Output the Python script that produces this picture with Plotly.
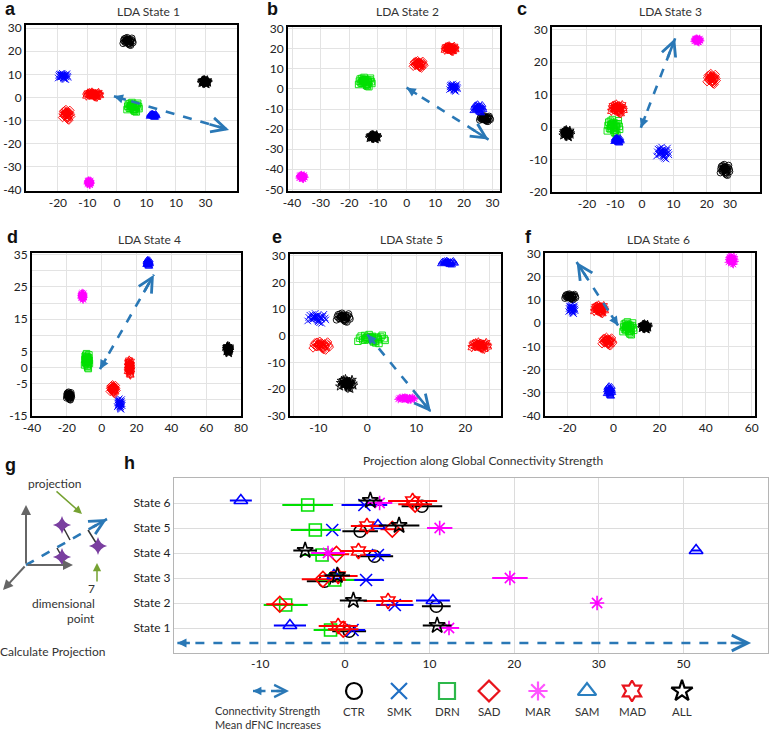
import math
import plotly.graph_objects as go

W, H = 770, 733

# ---------------------------------------------------------------- data
GROUPS = ["CTR", "SMK", "DRN", "SAD", "MAR", "SAM", "MAD", "ALL"]
TITLES = ["LDA State 1", "LDA State 2", "LDA State 3",
          "LDA State 4", "LDA State 5", "LDA State 6"]
LETTERS = ["a", "b", "c", "d", "e", "f"]

# cluster centres / spreads per LDA state (order = GROUPS)
S1_CX = [3.8, -18.2, 5.5, -17.0, -9.4, 12.3, -8.0, 29.8]
S1_CY = [24.2, 9.1, -4.2, -7.5, -36.8, -7.8, 1.2, 6.7]
S1_SX = [1.8, 1.8, 2.2, 1.5, 0.6, 1.2, 2.5, 1.2]
S1_SY = [1.8, 1.5, 2.2, 2.5, 1.2, 1.0, 1.2, 1.0]

S2_CX = [27.4, 16.4, -14.4, 4.2, -36.5, 25.1, 15.2, -11.5]
S2_CY = [-14.8, 0.6, 3.4, 12.2, -43.8, -9.8, 20.0, -23.9]
S2_SX = [2.0, 1.5, 2.5, 2.0, 1.0, 1.8, 2.0, 1.5]
S2_SY = [1.5, 2.0, 2.5, 2.0, 1.2, 2.5, 1.5, 1.2]

S3_CX = [25.0, 6.3, -8.5, 21.0, 16.7, -7.3, -7.3, -22.5]
S3_CY = [-13.2, -8.0, 0.0, 14.8, 26.7, -4.1, 5.6, -2.0]
S3_SX = [1.5, 2.0, 2.0, 1.5, 1.0, 1.0, 2.0, 1.2]
S3_SY = [1.8, 2.0, 2.5, 1.8, 0.7, 1.0, 1.6, 1.2]

S4_CX = [-18.7, 10.4, -8.4, 6.6, -11.0, 26.7, 16.0, 72.6]
S4_CY = [-8.8, -11.3, 2.0, -6.7, 22.1, 32.4, 0.0, 5.6]
S4_SX = [1.5, 1.5, 1.5, 1.8, 0.8, 1.0, 1.0, 1.0]
S4_SY = [1.3, 1.8, 2.5, 1.5, 1.2, 1.2, 2.5, 1.2]

S5_CX = [-4.9, -10.3, 0.9, -9.4, 8.0, 16.5, 23.0, -4.2]
S5_CY = [6.8, 6.5, -1.2, -3.7, -23.5, 27.3, -3.7, -18.0]
S5_SX = [1.5, 2.0, 3.0, 1.8, 1.8, 1.5, 1.8, 1.5]
S5_SY = [1.8, 2.0, 1.8, 1.8, 0.6, 1.0, 1.5, 2.0]

S6_CX = [-18.7, -18.0, 6.5, -2.6, 51.3, -1.7, -6.0, 13.7]
S6_CY = [11.4, 6.0, -2.2, -7.9, 27.2, -29.3, 6.0, -1.5]
S6_SX = [2.5, 1.5, 2.5, 2.5, 1.5, 1.2, 2.5, 1.5]
S6_SY = [1.3, 2.0, 3.0, 2.0, 2.0, 2.5, 2.0, 1.2]

STATE_CX = [S1_CX, S2_CX, S3_CX, S4_CX, S5_CX, S6_CX]
STATE_CY = [S1_CY, S2_CY, S3_CY, S4_CY, S5_CY, S6_CY]
STATE_SX = [S1_SX, S2_SX, S3_SX, S4_SX, S5_SX, S6_SX]
STATE_SY = [S1_SY, S2_SY, S3_SY, S4_SY, S5_SY, S6_SY]

# hand-drawn scatter pattern of subjects inside one cluster (unit spread)
CLOUD_DX = [0.00, 0.62, -0.48, 0.91, -0.83, 0.27, -0.18, 0.71,
            -0.94, 0.12, 0.49, -0.61, -0.33, 0.84, 0.05, -0.72]
CLOUD_DY = [0.00, 0.41, 0.73, -0.28, 0.19, -0.81, 0.92, 0.77,
            -0.47, -0.63, -0.92, -0.17, 0.35, 0.08, 0.55, 0.60]

# connectivity-strength arrow per LDA state (base -> tip)
ARROW_X0 = [-1.0, 0.0, -0.3, -1.0, 0.0, 2.0]
ARROW_Y0 = [0.5, 0.6, -0.2, -0.5, 0.5, -1.0]
ARROW_X1 = [38.0, 28.6, 10.0, 30.0, 13.0, -16.0]
ARROW_Y1 = [-14.0, -25.2, 27.3, 28.8, -28.5, 26.4]

# panel h : projection (mean, half-width) for State 1..6
STATE_LABELS = ["State 1", "State 2", "State 3", "State 4", "State 5", "State 6"]
H_MEAN = {
    "CTR": [0.5, 10.8, -2.4, 3.5, 1.8, 9.1],
    "SMK": [0.9, 5.9, 2.5, 3.9, -1.5, 2.3],
    "DRN": [-1.7, -7.0, -1.2, -2.7, -3.5, -4.4],
    "SAD": [-0.2, -7.7, -2.6, -1.0, 5.6, 8.3],
    "MAR": [12.3, 29.8, 19.5, -2.0, 11.2, 4.1],
    "SAM": [-6.5, 10.4, -1.3, 41.5, 3.9, -12.3],
    "MAD": [-0.8, 5.1, -0.8, 1.6, 2.6, 8.0],
    "ALL": [10.9, 1.0, -0.9, -4.7, 6.4, 3.0],
}
H_ERR = {
    "CTR": [2.0, 1.7, 2.1, 2.2, 2.1, 2.4],
    "SMK": [1.5, 2.2, 2.1, 1.5, 1.0, 2.7],
    "DRN": [2.0, 2.6, 2.3, 2.4, 2.9, 3.0],
    "SAD": [1.8, 1.6, 2.5, 1.5, 1.4, 2.0],
    "MAR": [1.2, 0.0, 2.1, 2.0, 1.5, 1.5],
    "SAM": [1.9, 2.0, 1.0, 0.6, 1.0, 1.3],
    "MAD": [2.3, 2.9, 2.3, 2.2, 1.9, 2.9],
    "ALL": [1.7, 1.6, 1.5, 1.4, 2.4, 1.4],
}
H_TICKVALS = [-10, 0, 10, 20, 30, 40]
H_TICKTEXT = ["-10", "0", "10", "20", "30", "50"]
H_ARROW = [-19.8, 48.0]
H_TITLE = "Projection along Global Connectivity Strength"

# ---------------------------------------------------------------- style
FONT = "Lato, 'Open Sans', sans-serif"
GRID = "#e3e3e3"
ARROW_C = "#2a78b6"
SYMBOL = {"CTR": "circle-open", "SMK": "x-thin-open", "DRN": "square-open",
          "SAD": "diamond-open", "MAR": "asterisk-open", "SAM": "triangle-up-open",
          "MAD": "hexagram-open", "ALL": "star-open"}
COLOR = {"CTR": "#000000", "SMK": "#0000ff", "DRN": "#00e000", "SAD": "#ff0000",
         "MAR": "#ff00ff", "SAM": "#0000ff", "MAD": "#ff0000", "ALL": "#000000"}
LEG_COLOR = {"CTR": "#000000", "SMK": "#1f6fc4", "DRN": "#2db84a", "SAD": "#e8141c",
             "MAR": "#ff55ff", "SAM": "#2a7fc0", "MAD": "#e8141c", "ALL": "#000000"}
DODGE = {"CTR": -0.13, "SMK": -0.08, "DRN": -0.08, "SAD": -0.05,
         "MAR": 0.0, "SAM": 0.1, "MAD": 0.08, "ALL": 0.1}


def rng(a, b, s):
    return list(range(a, b + 1, s))


def lab(vals, shown=None):
    return [str(v) if (shown is None or v in shown) else "" for v in vals]


# pixel boxes (left, top, right, bottom) and axis settings per panel
PANELS = [
    dict(box=(26, 25, 237, 191), xr=[-30.8, 40.7], yr=[-40.4, 31.3],
         xt=[-20, -10, 0, 10, 20, 30], xtt=["-20", "-10", "0", "10", "10", "30"],
         yt=rng(-40, 30, 10), ytt=lab(rng(-40, 30, 10)),
         tpos=(148, 12), lpos=(3, 9)),
    dict(box=(288, 27, 500, 191), xr=[-41.4, 32.6], yr=[-50.8, 30.8],
         xt=rng(-40, 30, 10), xtt=lab(rng(-40, 30, 10)),
         yt=rng(-50, 30, 10), ytt=lab(rng(-50, 30, 10)),
         tpos=(408, 12), lpos=(265, 9)),
    dict(box=(552, 27, 760, 192), xr=[-27.0, 35.5], yr=[-20.0, 30.8],
         xt=[-16.5, -8, 0, 9.5, 19.5, 26.5], xtt=["-20", "-10", "0", "10", "20", "30"],
         yt=rng(-20, 30, 5), ytt=lab(rng(-20, 30, 5), rng(-20, 30, 10)),
         tpos=(670, 12), lpos=(515, 9)),
    dict(box=(32, 253, 241, 416), xr=[-40, 80], yr=[-15, 35.5],
         xt=rng(-40, 80, 20), xtt=lab(rng(-40, 80, 20)),
         yt=rng(-15, 35, 5), ytt=lab(rng(-15, 35, 5), [35, 25, 15, 5, 0, -5, -15]),
         tpos=(149, 239), lpos=(5, 237)),
    dict(box=(290, 254, 501, 416), xr=[-15.8, 27.3], yr=[-30, 30.6],
         xt=rng(-15, 25, 5), xtt=lab(rng(-15, 25, 5), [-10, 0, 10, 20]),
         yt=rng(-30, 30, 10), ytt=lab(rng(-30, 30, 10)),
         tpos=(412, 239), lpos=(270, 237)),
    dict(box=(545, 253, 755, 416), xr=[-29.7, 61.4], yr=[-40, 30.3],
         xt=rng(-20, 60, 10), xtt=lab(rng(-20, 60, 10), [-20, 0, 20, 40, 60]),
         yt=rng(-40, 30, 10), ytt=lab(rng(-40, 30, 10)),
         tpos=(658, 239), lpos=(523, 237)),
]
H_BOX = (174, 478, 768, 653)
H_XR = [-20.2, 50]
H_YR = [0, 7]
LEGEND_X = [354, 399, 447, 489, 538, 587, 632, 682]
LEGEND_Y = 691


def dxp(l, r):
    return [l / W, r / W]


def dyp(t, b):
    return [1 - b / H, 1 - t / H]


fig = go.Figure()
layout = dict(width=W, height=H,
              margin=dict(l=0, r=0, t=0, b=0, pad=0, autoexpand=False),
              paper_bgcolor="white", plot_bgcolor="rgba(0,0,0,0)", showlegend=False,
              font=dict(family=FONT, size=12, color="#222222"))
annotations = []


def axnames(n):
    return ("x" if n == 1 else f"x{n}", "y" if n == 1 else f"y{n}")


def text_ann(x, y, txt, size=12, color="#333", anchor="center", bold=False, family=None):
    f = dict(size=size, color=color)
    if family:
        f["family"] = family
    return dict(x=x / W, y=1 - y / H, xref="paper", yref="paper",
                text=f"<b>{txt}</b>" if bold else txt, showarrow=False,
                xanchor=anchor, yanchor="middle", align=anchor, font=f)


def add_arrow(xa, ya, x0, y0, x1, y1, kx, ky, yrev=False, width=2.6, tipsize=1.1,
              basesize=0.7, stub=22):
    """dashed line + open chevron at the tip + small solid head at the base.
    kx, ky = pixels per data unit (used only to orient the heads)."""
    fig.add_trace(go.Scatter(x=[x0, x1], y=[y0, y1], mode="lines", xaxis=xa, yaxis=ya,
                             line=dict(color=ARROW_C, width=width, dash="dash"),
                             hoverinfo="skip"))
    pdx = (x1 - x0) * kx
    pdy = (y1 - y0) * ky * (1 if yrev else -1)
    L = math.hypot(pdx, pdy)
    ux, uy = pdx / L, pdy / L
    annotations.append(dict(x=x1, y=y1, ax=-ux * stub, ay=-uy * stub,
                            xref=xa, yref=ya, axref="pixel", ayref="pixel", text="",
                            showarrow=True, arrowhead=5, arrowsize=tipsize,
                            arrowwidth=width, arrowcolor=ARROW_C))
    if basesize:
        annotations.append(dict(x=x0, y=y0, ax=ux * 14, ay=uy * 14,
                                xref=xa, yref=ya, axref="pixel", ayref="pixel", text="",
                                showarrow=True, arrowhead=2, arrowsize=basesize,
                                arrowwidth=width, arrowcolor=ARROW_C))


AX_COMMON = dict(automargin=False, zeroline=False, showline=True, mirror=True,
                 ticks="", tickfont=dict(size=12, color="#222"), tickmode="array")

# ---------------------------------------------------------------- LDA panels
for i, p in enumerate(PANELS):
    n = i + 1
    xa, ya = axnames(n)
    l, t, r, b = p["box"]
    layout["xaxis" if n == 1 else f"xaxis{n}"] = dict(
        AX_COMMON, domain=dxp(l, r), range=p["xr"], anchor=ya,
        tickvals=p["xt"], ticktext=p["xtt"], showgrid=True, gridcolor=GRID,
        linecolor="black", linewidth=2)
    layout["yaxis" if n == 1 else f"yaxis{n}"] = dict(
        AX_COMMON, domain=dyp(t, b), range=p["yr"], anchor=xa,
        tickvals=p["yt"], ticktext=p["ytt"], showgrid=True, gridcolor=GRID,
        linecolor="black", linewidth=2)
    for g_i, g in enumerate(GROUPS):
        cx, cy = STATE_CX[i][g_i], STATE_CY[i][g_i]
        sx, sy = STATE_SX[i][g_i], STATE_SY[i][g_i]
        xs = [cx + sx * d for d in CLOUD_DX] + [cx + 0.5 * sx * d for d in CLOUD_DX]
        ys = [cy + sy * d for d in CLOUD_DY] + [cy + 0.5 * sy * d for d in CLOUD_DY]
        fig.add_trace(go.Scatter(x=xs, y=ys, mode="markers", xaxis=xa, yaxis=ya,
                                 marker=dict(symbol=SYMBOL[g], size=6.5, color=COLOR[g],
                                             line=dict(width=0.9, color=COLOR[g])),
                                 hoverinfo="skip"))
    kx = (r - l) / (p["xr"][1] - p["xr"][0])
    ky = (b - t) / (p["yr"][1] - p["yr"][0])
    add_arrow(xa, ya, ARROW_X0[i], ARROW_Y0[i], ARROW_X1[i], ARROW_Y1[i], kx, ky)
    annotations.append(text_ann(p["tpos"][0], p["tpos"][1], TITLES[i]))
    annotations.append(text_ann(p["lpos"][0], p["lpos"][1], LETTERS[i], size=18,
                                color="#111", anchor="left", bold=True,
                                family="Liberation Sans, Arial"))

# ---------------------------------------------------------------- panel h
l, t, r, b = H_BOX
layout["xaxis7"] = dict(AX_COMMON, domain=dxp(l, r), range=H_XR, anchor="y7",
                        tickvals=H_TICKVALS, ticktext=H_TICKTEXT,
                        showgrid=True, gridcolor="#dcdcdc",
                        linecolor="#b5b5b5", linewidth=1)
layout["yaxis7"] = dict(AX_COMMON, domain=dyp(t, b), range=H_YR, anchor="x7",
                        tickvals=[1, 2, 3, 4, 5, 6],
                        ticktext=STATE_LABELS, showgrid=True, gridcolor="#dcdcdc",
                        linecolor="#b5b5b5", linewidth=1)
states = [1, 2, 3, 4, 5, 6]
for g in GROUPS:
    fig.add_trace(go.Scatter(
        x=H_MEAN[g], y=[s + DODGE[g] for s in states], mode="markers",
        xaxis="x7", yaxis="y7",
        error_x=dict(type="data", array=H_ERR[g], color=COLOR[g], thickness=2, width=0),
        marker=dict(symbol=SYMBOL[g], size=12, color=COLOR[g],
                    line=dict(width=1.6, color=COLOR[g])),
        hoverinfo="skip"))
hkx = (r - l) / (H_XR[1] - H_XR[0])
hky = (b - t) / (H_YR[1] - H_YR[0])
add_arrow("x7", "y7", H_ARROW[0], 0.4, H_ARROW[1], 0.4, hkx, hky, width=2.6, tipsize=1.2)
annotations.append(text_ann(483, 460, H_TITLE))
annotations.append(text_ann(122, 463, "h", size=18, color="#111", anchor="left",
                            bold=True, family="Liberation Sans, Arial"))

# ---------------------------------------------------------------- overlay (pixel coords): legend + panel g
layout["xaxis8"] = dict(domain=[0, 1], range=[0, W], anchor="y8", visible=False,
                        automargin=False)
layout["yaxis8"] = dict(domain=[0, 1], range=[H, 0], anchor="x8", visible=False,
                        automargin=False)

for g, lx in zip(GROUPS, LEGEND_X):
    fig.add_trace(go.Scatter(x=[lx], y=[LEGEND_Y], mode="markers", xaxis="x8", yaxis="y8",
                             marker=dict(symbol=SYMBOL[g], size=16, color=LEG_COLOR[g],
                                         line=dict(width=2.2, color=LEG_COLOR[g])),
                             hoverinfo="skip"))
    annotations.append(text_ann(lx, 711, g, size=11.5))
add_arrow("x8", "y8", 253, LEGEND_Y, 289, LEGEND_Y, 1, 1, yrev=True, width=2.4,
          tipsize=1.0, basesize=0.7, stub=14)
annotations.append(text_ann(213, 717, "Connectivity Strength<br>Mean dFNC Increases",
                            size=11, anchor="left"))

# panel g schematic
annotations.append(text_ann(3, 465, "g", size=18, color="#111", anchor="left", bold=True,
                            family="Liberation Sans, Arial"))
G_ORIGIN = (26, 565)
for ex, ey in [(26, 505), (73, 565), (3, 590)]:
    annotations.append(dict(x=ex, y=ey, ax=G_ORIGIN[0], ay=G_ORIGIN[1], xref="x8", yref="y8",
                            axref="x8", ayref="y8", text="", showarrow=True, arrowhead=2,
                            arrowsize=1.0, arrowwidth=2, arrowcolor="#666666"))
add_arrow("x8", "y8", G_ORIGIN[0], G_ORIGIN[1], 107, 519, 1, 1, yrev=True, width=2.6,
          tipsize=1.1, basesize=None, stub=18)
for (sx_, sy_), (qx, qy) in [((62, 525), (70, 540)), ((98, 546), (88, 530)),
                             ((62, 557), (57, 548))]:
    fig.add_trace(go.Scatter(x=[sx_, qx], y=[sy_, qy], mode="lines", xaxis="x8", yaxis="y8",
                             line=dict(color="#333333", width=1.5), hoverinfo="skip"))
fig.add_trace(go.Scatter(x=[62, 98, 62], y=[525, 546, 557], mode="markers",
                         xaxis="x8", yaxis="y8",
                         marker=dict(symbol="star-diamond", size=13, color="#7a3fa0"),
                         hoverinfo="skip"))
for (x0, y0), (x1, y1) in [((55, 490), (82, 514)), ((97, 583), (97, 563))]:
    annotations.append(dict(x=x1, y=y1, ax=x0, ay=y0, xref="x8", yref="y8", axref="x8",
                            ayref="y8", text="", showarrow=True, arrowhead=2, arrowsize=1.1,
                            arrowwidth=1.5, arrowcolor="#76a232"))
for txt, x, y, anc in [("projection", 55, 483, "center"), ("7", 97, 588, "right"),
                       ("dimensional", 97, 603, "right"), ("point", 97, 618, "right"),
                       ("Calculate Projection", 53, 651, "center")]:
    annotations.append(text_ann(x, y, txt, anchor=anc))

layout["annotations"] = annotations
fig.update_layout(**layout)
fig.write_html("out.html", config={"displayModeBar": False},
               post_script="document.body.style.margin='0px';")
